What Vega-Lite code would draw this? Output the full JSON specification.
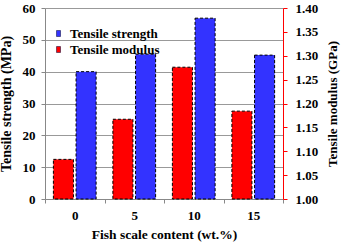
{
  "$schema": "https://vega.github.io/schema/vega-lite/v6.json",
  "width": 238,
  "height": 191,
  "autosize": {"type": "none"},
  "padding": {"left": 45, "top": 8, "right": 59, "bottom": 43},
  "config": {
    "font": "Liberation Serif, serif",
    "view": {"stroke": null},
    "axis": {"labelFont": "Liberation Serif, serif", "titleFont": "Liberation Serif, serif", "labelFontWeight": "bold", "titleFontWeight": "bold", "labelFontSize": 13, "titleFontSize": 13, "labelColor": "black", "titleColor": "black", "tickSize": 4, "domainColor": "#888888", "tickColor": "#888888"},
    "legend": {"labelFont": "Liberation Serif, serif", "labelFontWeight": "bold", "labelFontSize": 13, "labelColor": "black"}
  },
  "data": {
    "values": [
      {"content": "0", "series": "Tensile strength", "value": 40.0},
      {"content": "5", "series": "Tensile strength", "value": 45.5},
      {"content": "10", "series": "Tensile strength", "value": 56.8},
      {"content": "15", "series": "Tensile strength", "value": 45.2},
      {"content": "0", "series": "Tensile modulus", "value": 1.083},
      {"content": "5", "series": "Tensile modulus", "value": 1.167},
      {"content": "10", "series": "Tensile modulus", "value": 1.276},
      {"content": "15", "series": "Tensile modulus", "value": 1.184}
    ]
  },
  "encoding": {
    "x": {
      "field": "content", "type": "nominal", "sort": ["0", "5", "10", "15"],
      "scale": {"paddingInner": 0, "paddingOuter": 0},
      "axis": {"title": "Fish scale content (wt.%)", "titleFontSize": 13.5, "labelAngle": 0, "tickBand": "extent", "labelPadding": 6, "titlePadding": 5}
    },
    "xOffset": {
      "field": "series", "type": "nominal",
      "scale": {"domain": ["Tensile modulus", "Tensile strength"], "paddingInner": 0.115, "paddingOuter": 0.37}
    },
    "color": {
      "field": "series", "type": "nominal",
      "scale": {"domain": ["Tensile strength", "Tensile modulus"], "range": ["#3333FF", "#FF0000"]},
      "legend": {"title": null, "orient": "none", "legendX": 7, "legendY": 19, "symbolType": "M-0.67,-1H0.67V1H-0.67Z", "symbolSize": 36, "symbolStrokeColor": "#000033", "symbolStrokeWidth": 0.5, "rowPadding": 2, "labelOffset": 5}
    }
  },
  "layer": [
    {
      "transform": [{"filter": "datum.series == 'Tensile strength'"}],
      "mark": {"type": "bar", "stroke": "black", "strokeWidth": 1, "strokeDash": [3, 2]},
      "encoding": {
        "y": {
          "field": "value", "type": "quantitative",
          "scale": {"domain": [0, 60], "nice": false},
          "axis": {"title": "Tensile strength (MPa)", "titleFontSize": 14, "values": [0, 10, 20, 30, 40, 50, 60], "grid": true, "gridColor": "#999999", "labelPadding": 6, "titlePadding": 9}
        }
      }
    },
    {
      "transform": [{"filter": "datum.series == 'Tensile modulus'"}],
      "mark": {"type": "bar", "stroke": "black", "strokeWidth": 1, "strokeDash": [3, 2]},
      "encoding": {
        "y": {
          "field": "value", "type": "quantitative",
          "scale": {"domain": [1.0, 1.4], "nice": false, "zero": false},
          "axis": {"orient": "right", "title": "Tensile modulus (GPa)", "values": [1.0, 1.05, 1.1, 1.15, 1.2, 1.25, 1.3, 1.35, 1.4], "format": ".2f", "grid": false, "domainColor": "#FF0000", "tickColor": "#FF0000", "labelPadding": 8, "titleAngle": 270, "titlePadding": 22}
        },
        "y2": {"datum": 1.0}
      }
    }
  ],
  "resolve": {"scale": {"y": "independent"}}
}
